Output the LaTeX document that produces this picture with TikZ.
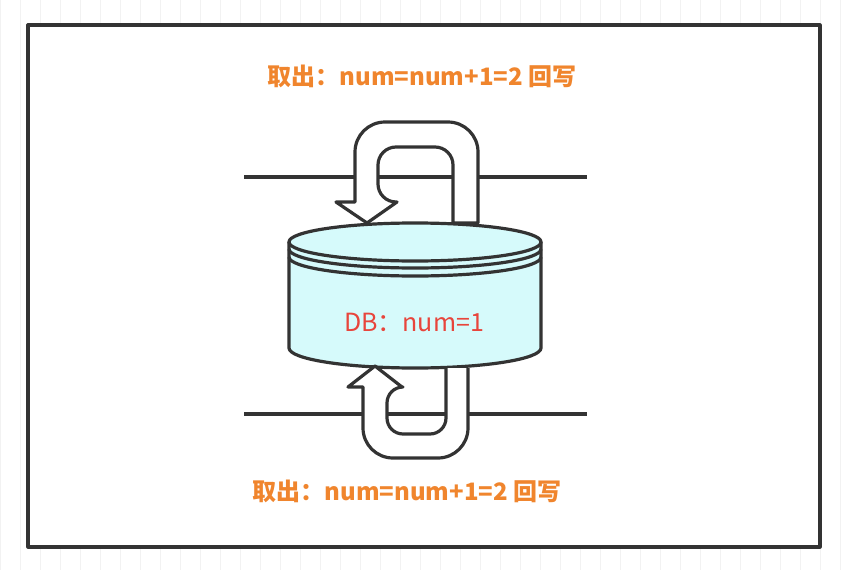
\documentclass[tikz,border=0pt]{standalone}
\usepackage{fontspec}
\setmainfont{Noto Sans CJK SC}
\definecolor{og}{HTML}{F0852D}
\definecolor{rd}{HTML}{E8453C}
\definecolor{cy}{HTML}{D6FAFB}
\definecolor{ink}{HTML}{333333}
\begin{document}
\begin{tikzpicture}[x=1pt,y=-1pt,
  ln/.style={line width=3.2pt,draw=ink,line join=round},
  lbl/.style={font=\fontsize{24}{28}\selectfont\bfseries,text=og}]
\useasboundingbox (0,0) rectangle (848,570);
\fill[white] (0,0) rectangle (848,570);
\draw[black!5,line width=0.8pt,step=20] (0,0) grid (848,570);
\draw[ln,fill=white] (28,25) rectangle (820,547);
\draw[ln] (244,177) -- (587,177);
\draw[ln] (244,414) -- (587,414);
% top arrow
\draw[ln,fill=white,rounded corners=18] (453,223) -- (453,147) -- (378,147) -- (378,202) [sharp corners]-- (397,202) -- (367,223) -- (336,202) -- (355,202) [rounded corners=30]-- (355,122) -- (478,122) [sharp corners]-- (478,223) -- cycle;
% cylinder
\draw[ln,fill=cy] (289,242) -- (289,348) arc[start angle=180,end angle=0,x radius=126,y radius=20] -- (541,242);
\draw[ln,fill=cy] (415,242) ellipse[x radius=126,y radius=19];
\draw[ln] (289,249) arc[start angle=180,end angle=0,x radius=126,y radius=19];
\draw[ln] (289,257) arc[start angle=180,end angle=0,x radius=126,y radius=19];
\node[font=\fontsize{25}{28}\selectfont,text=rd] (db) at (414,322) {DB：num=1};
% bottom arrow
\draw[ln,fill=white,rounded corners=16] (446,368) -- (446,434) -- (387,434) -- (387,387) [sharp corners]-- (402,387) -- (375,366) -- (348,387) -- (363,387) [rounded corners=30]-- (363,458) -- (468,458) [sharp corners]-- (468,368);
\node[lbl] (t1) at (422,76) {取出：num=num+1=2 回写};
\node[lbl] (t2) at (407,491) {取出：num=num+1=2 回写};
\end{tikzpicture}
\end{document}
